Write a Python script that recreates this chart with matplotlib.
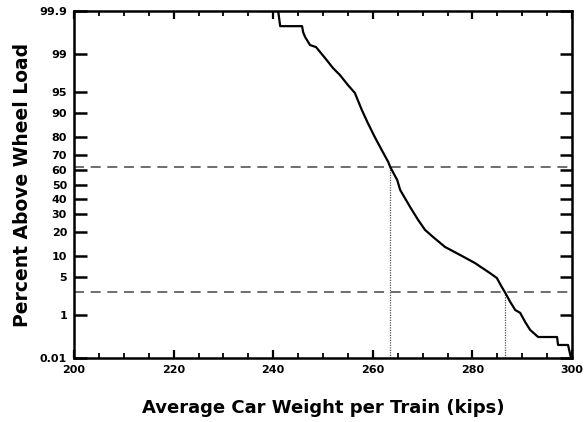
import numpy as np
import matplotlib
matplotlib.use("Agg")
import matplotlib.pyplot as plt
from matplotlib.ticker import FixedLocator, MultipleLocator
from statistics import NormalDist

# ---- data ----
weight_kips = [238.0, 241.0, 241.4, 245.8, 246.0, 246.4, 247.4, 248.6, 249.4, 250.4,
               252.0, 253.4, 255.0, 256.4, 257.8, 259.0, 260.4, 261.8, 263.1, 263.5,
               264.9, 265.5, 267.5, 269.1, 270.5, 272.1, 274.5, 277.5, 280.5, 283.5,
               284.9, 285.9, 286.5, 287.6, 288.6, 289.6, 290.6, 291.6, 293.2, 297.0,
               297.2, 299.2, 299.8]
pct_above = [99.9, 99.9, 99.76, 99.76, 99.67, 99.57, 99.35, 99.28, 99.09, 98.79,
             98.10, 97.44, 96.18, 94.85, 90.77, 86.33, 80.1, 73.0, 65.6, 62.2,
             53.2, 46.1, 34.4, 26.4, 20.9, 17.5, 13.3, 10.5, 8.1, 5.75,
             4.80, 3.40, 2.78, 1.82, 1.27, 1.11, 0.716, 0.479, 0.330, 0.330,
             0.213, 0.213, 0.1]

ref_pct = [62.2, 2.78]          # horizontal dashed reference levels
ref_weight = [263.5, 286.5]     # corresponding vertical dotted lines

ytick_vals = [0.1, 1, 5, 10, 20, 30, 40, 50, 60, 70, 80, 90, 95, 99, 99.9]
ytick_labels = ["0.01", "1", "5", "10", "20", "30", "40", "50", "60", "70",
                "80", "90", "95", "99", "99.9"]
xtick_vals = [200, 220, 240, 260, 280, 300]

# ---- probability scale ----
_nd = NormalDist()
def _fwd(p):
    p = np.asarray(p, dtype=float)
    out = np.full(p.shape, np.nan)
    m = (p > 0) & (p < 100)
    out[m] = [_nd.inv_cdf(v / 100.0) for v in p[m]]
    return out
def _inv(z):
    z = np.asarray(z, dtype=float)
    return np.array([_nd.cdf(v) * 100.0 for v in z.ravel()]).reshape(z.shape)

fig = plt.figure(figsize=(5.86, 4.22), dpi=100)
ax = fig.add_axes([74/586, 1 - 358/422, (572-74)/586, (358-11)/422])
ax.set_yscale("function", functions=(_fwd, _inv))

ax.plot(weight_kips, pct_above, color="black", lw=1.6, zorder=3)

for p in ref_pct:
    ax.plot([200, 299.2], [p, p], color="#555555", lw=1.2, ls=(0, (6, 4)), zorder=2)
for w, p in zip(ref_weight, ref_pct):
    ax.plot([w, w], [0.1, p], color="#555555", lw=0.9, ls=(0, (1, 1)), zorder=2)

ax.set_xlim(200, 300)
ax.set_ylim(0.1, 99.9)
ax.xaxis.set_major_locator(FixedLocator(xtick_vals))
ax.xaxis.set_minor_locator(MultipleLocator(5))
ax.yaxis.set_major_locator(FixedLocator(ytick_vals))
ax.set_yticklabels(ytick_labels)
ax.yaxis.set_minor_locator(FixedLocator([]))

ax.tick_params(axis="y", which="major", direction="in", length=9, width=1.8,
               right=True, labelsize=8, pad=5)
ax.tick_params(axis="x", which="major", direction="in", length=6, width=1.6,
               top=True, labelsize=8, pad=5)
ax.tick_params(axis="x", which="minor", direction="in", length=3.5, width=1.3,
               top=True)
for lab in ax.get_xticklabels() + ax.get_yticklabels():
    lab.set_fontweight("bold")
for s in ax.spines.values():
    s.set_linewidth(1.8)

ax.set_xlabel("Average Car Weight per Train (kips)", fontsize=13,
              fontweight="heavy", labelpad=17)
ax.set_ylabel("Percent Above Wheel Load", fontsize=13.5, fontweight="heavy",
              labelpad=5)

fig.savefig("out.png", dpi=100)
